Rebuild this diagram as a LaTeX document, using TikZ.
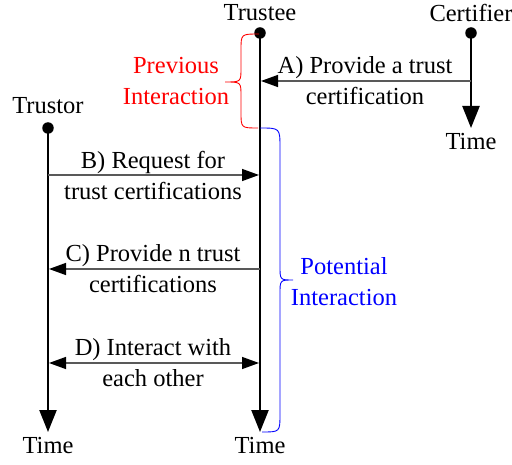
\documentclass[tikz,border=0pt]{standalone}
\usepackage{fontspec}
\setmainfont{Liberation Serif}
\usetikzlibrary{arrows.meta}
\tikzset{mtip/.tip={Triangle[length=17pt,width=12pt,color=black]}}
\begin{document}
\begin{tikzpicture}[x=1pt,y=-1pt,
  every node/.style={font=\fontsize{24.5}{31}\selectfont, inner sep=0pt},
  dot/.style={circle, fill=black, minimum size=11.5pt, inner sep=0pt},
  life/.style={line width=2.4pt, -{Triangle[length=22pt,width=17pt]}},
  msg/.style={draw=black!65, line width=1.4pt},
  lbl/.style={align=center}]
\useasboundingbox (0,0) rectangle (512,465);
% lifelines
\node[dot] (tee) at (260,33) {};
\node[dot] (cer) at (471,33) {};
\node[dot] (tor) at (48,128) {};
\node (teeT) at (260,446) {Time};
\node (torT) at (48,446) {Time};
\node (cerT) at (471,142) {Time};
\node (teeN) at (260,13) {Trustee};
\node (cerN) at (471,13) {Certifier};
\node (torN) at (48,106) {Trustor};
\coordinate (teeE) at (260,432);
\coordinate (torE) at (48,432);
\coordinate (cerE) at (471,128);
\draw[life] (tee.center) -- (teeE);
\draw[life] (tor.center) -- (torE);
\draw[life] (cer.center) -- (cerE);
% messages
\coordinate (a1) at (471,81); \coordinate (a2) at (261,81);
\coordinate (b1) at (48,175); \coordinate (b2) at (259,175);
\coordinate (c1) at (260,269); \coordinate (c2) at (49,269);
\coordinate (d1) at (49,363); \coordinate (d2) at (259,363);
\draw[msg, -{mtip}] (a1) -- (a2);
\draw[msg, -{mtip}] (b1) -- (b2);
\draw[msg, -{mtip}] (c1) -- (c2);
\draw[msg, {mtip}-{mtip}] (d1) -- (d2);
\node[lbl] (la) at (365,81) {A) Provide a trust\\certification};
\node[lbl] (lb) at (153,175) {B) Request for\\trust certifications};
\node[lbl] (lc) at (153,269) {C) Provide n trust\\certifications};
\node[lbl] (ld) at (153,363) {D) Interact with\\each other};
% braces
\draw[red, line width=0.9pt] (259,34) .. controls (241,34) .. (241,50) -- (241,68)
  .. controls (241,82) .. (225,82) .. controls (241,82) .. (241,96) -- (241,112)
  .. controls (241,128) .. (258,128);
\draw[blue, line width=0.9pt] (260,128) .. controls (280,128) .. (280,148) -- (280,266)
  .. controls (280,280) .. (293,280) .. controls (280,280) .. (280,294) -- (280,414)
  .. controls (280,432) .. (262,432);
\node[lbl, text=red] (prev) at (176,81) {Previous\\Interaction};
\node[lbl, text=blue] (pot) at (344,282) {Potential\\Interaction};
\end{tikzpicture}
\end{document}
